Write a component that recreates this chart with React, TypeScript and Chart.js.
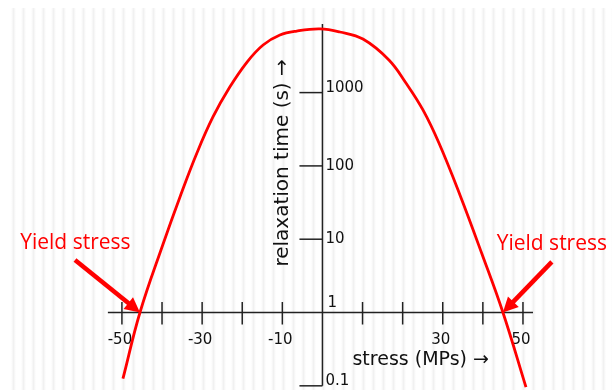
import { useEffect, useRef } from "react";
import { Chart, registerables } from "chart.js";

Chart.register(...registerables);

// ---- data ----
const stress = [-49.75, -45.5, -39.8, -35.5, -31.3, -27.3, -23.1, -18.8, -14.8, -10.6, -6.4, -0.6, 4.36, 10.1, 16.58, 20.82, 25.06, 29.05, 34.29, 39.78, 45.01, 50.75];
const relaxationTime = [0.125, 1, 8.4, 38, 150, 465, 1190, 2610, 4460, 6110, 6920, 7380, 6710, 5380, 2790, 1352, 580, 205, 40.1, 6.28, 1, 0.096];

const xTickValues = [-50, -40, -30, -20, -10, 10, 20, 30, 40, 50];
const xTickLabels = ["-50", "", "-30", "", "-10", "", "", "30", "", "50"];
const yTickValues = [0.1, 1, 10, 100, 1000];
const yTickLabels = ["0.1", "1", "10", "100", "1000"];

const xAxisExtent = [-53.5, 52.5];
const yAxisExtent = [0.1, 8600];

const yieldStressTips = [-45.5, 45.0];
const yieldArrowTailX = [-61.7, 57.2];
const yieldArrowTailY = [5.2, 4.9];
const yieldLabelX = [-61.6, 57.2];
const yieldLabelY = [7.35, 7.1];

const xTitle = "stress (MPs) →";
const yTitle = "relaxation time (s) →";
const yieldLabel = "Yield stress";

const RED = "#ff0000";
const INK = "#111111";

const decorPlugin = {
  id: "decor",
  beforeDraw(chart: any) {
    const ctx = chart.ctx as CanvasRenderingContext2D;
    ctx.save();
    ctx.fillStyle = "#ffffff";
    ctx.fillRect(0, 0, chart.width, chart.height);
    for (let x = 11; x < chart.width; x += 10) {
      const g = ctx.createLinearGradient(x, 0, x + 5, 0);
      g.addColorStop(0, "rgba(0,0,0,0)");
      g.addColorStop(0.5, "rgba(0,0,0,0.055)");
      g.addColorStop(1, "rgba(0,0,0,0)");
      ctx.fillStyle = g;
      ctx.fillRect(x, 8, 5, chart.height - 8);
    }
    ctx.restore();
  },
  beforeDatasetsDraw(chart: any) {
    const ctx = chart.ctx as CanvasRenderingContext2D;
    const xs = chart.scales.x;
    const ys = chart.scales.y;
    const y1 = ys.getPixelForValue(1);
    const x0 = xs.getPixelForValue(0);
    ctx.save();
    ctx.strokeStyle = "#222222";
    ctx.lineWidth = 1.5;
    ctx.beginPath();
    ctx.moveTo(xs.getPixelForValue(xAxisExtent[0]), y1);
    ctx.lineTo(xs.getPixelForValue(xAxisExtent[1]), y1);
    ctx.stroke();
    ctx.beginPath();
    ctx.moveTo(x0, ys.getPixelForValue(yAxisExtent[1]));
    ctx.lineTo(x0, ys.getPixelForValue(yAxisExtent[0]));
    ctx.stroke();
    xTickValues.forEach((v) => {
      const px = xs.getPixelForValue(v);
      ctx.beginPath();
      ctx.moveTo(px, y1 - 10.5);
      ctx.lineTo(px, y1 + 12);
      ctx.stroke();
    });
    yTickValues.forEach((v) => {
      if (v === 1) return;
      const py = ys.getPixelForValue(v);
      ctx.beginPath();
      ctx.moveTo(x0 - 23, py);
      ctx.lineTo(x0, py);
      ctx.stroke();
    });
    ctx.fillStyle = INK;
    ctx.font = '15px "DejaVu Sans"';
    ctx.textAlign = "center";
    ctx.textBaseline = "alphabetic";
    xTickValues.forEach((v, i) => {
      const t = xTickLabels[i];
      if (!t) return;
      ctx.fillText(t, xs.getPixelForValue(v) - 2, y1 + 31.5);
    });
    ctx.textAlign = "left";
    yTickValues.forEach((v, i) => {
      const py = ys.getPixelForValue(v);
      const t = yTickLabels[i];
      if (v === 10 || v === 100) {
        ctx.textBaseline = "middle";
        ctx.fillText(t, x0 + 3, py);
      } else if (v === 1) {
        ctx.textBaseline = "alphabetic";
        ctx.fillText(t, x0 + 5, py - 5.5);
      } else {
        ctx.textBaseline = "alphabetic";
        ctx.fillText(t, x0 + 3, py - 0.5);
      }
    });
    ctx.textBaseline = "alphabetic";
    ctx.font = '19px "DejaVu Sans"';
    ctx.textAlign = "left";
    ctx.fillText(xTitle, x0 + 30, y1 + 52.5);
    ctx.save();
    ctx.font = '20px "DejaVu Sans"';
    ctx.translate(x0 - 34.5, ys.getPixelForValue(100) - 3);
    ctx.rotate(-Math.PI / 2);
    ctx.textAlign = "center";
    ctx.fillText(yTitle, 0, 0);
    ctx.restore();
    ctx.restore();
  },
  afterDatasetsDraw(chart: any) {
    const ctx = chart.ctx as CanvasRenderingContext2D;
    const xs = chart.scales.x;
    const ys = chart.scales.y;
    ctx.save();
    ctx.strokeStyle = RED;
    ctx.fillStyle = RED;
    ctx.lineWidth = 4.5;
    ctx.lineCap = "butt";
    yieldStressTips.forEach((tipX, i) => {
      const tx = xs.getPixelForValue(tipX);
      const ty = ys.getPixelForValue(1);
      const fx = xs.getPixelForValue(yieldArrowTailX[i]);
      const fy = ys.getPixelForValue(yieldArrowTailY[i]);
      const dx = tx - fx;
      const dy = ty - fy;
      const len = Math.hypot(dx, dy);
      const ux = dx / len;
      const uy = dy / len;
      const head = 15;
      const half = 7.5;
      const bx = tx - ux * head;
      const by = ty - uy * head;
      ctx.beginPath();
      ctx.moveTo(fx, fy);
      ctx.lineTo(bx + ux * 2, by + uy * 2);
      ctx.stroke();
      ctx.beginPath();
      ctx.moveTo(tx, ty);
      ctx.lineTo(bx - uy * half, by + ux * half);
      ctx.lineTo(bx + uy * half, by - ux * half);
      ctx.closePath();
      ctx.fill();
      ctx.font = '21px "Open Sans"';
      ctx.textAlign = "center";
      ctx.textBaseline = "alphabetic";
      ctx.fillText(yieldLabel, xs.getPixelForValue(yieldLabelX[i]), ys.getPixelForValue(yieldLabelY[i]));
    });
    ctx.restore();
  },
};

export default function App() {
  const ref = useRef<HTMLCanvasElement>(null);
  useEffect(() => {
    document.body.style.margin = "0";
    const canvas = ref.current;
    if (!canvas) return;
    const chart = new Chart(canvas, {
      type: "line",
      data: {
        datasets: [
          {
            label: "relaxation time",
            data: stress.map((s, i) => ({ x: s, y: relaxationTime[i] })),
            borderColor: RED,
            borderWidth: 2.8,
            pointRadius: 0,
            fill: false,
            tension: 0.4,
            clip: false as any,
          },
        ],
      },
      options: {
        responsive: false,
        animation: false,
        devicePixelRatio: 1,
        layout: { padding: 0 },
        plugins: { legend: { display: false }, tooltip: { enabled: false } },
        scales: {
          x: { type: "linear", min: -80.4, max: 72.2, display: false },
          y: { type: "logarithmic", min: 0.0877, max: 18330, display: false },
        },
      },
      plugins: [decorPlugin],
    });
    return () => chart.destroy();
  }, []);
  return (
    <div style={{ width: 612, height: 390 }}>
      <canvas ref={ref} width={612} height={390} style={{ display: "block" }} />
    </div>
  );
}
